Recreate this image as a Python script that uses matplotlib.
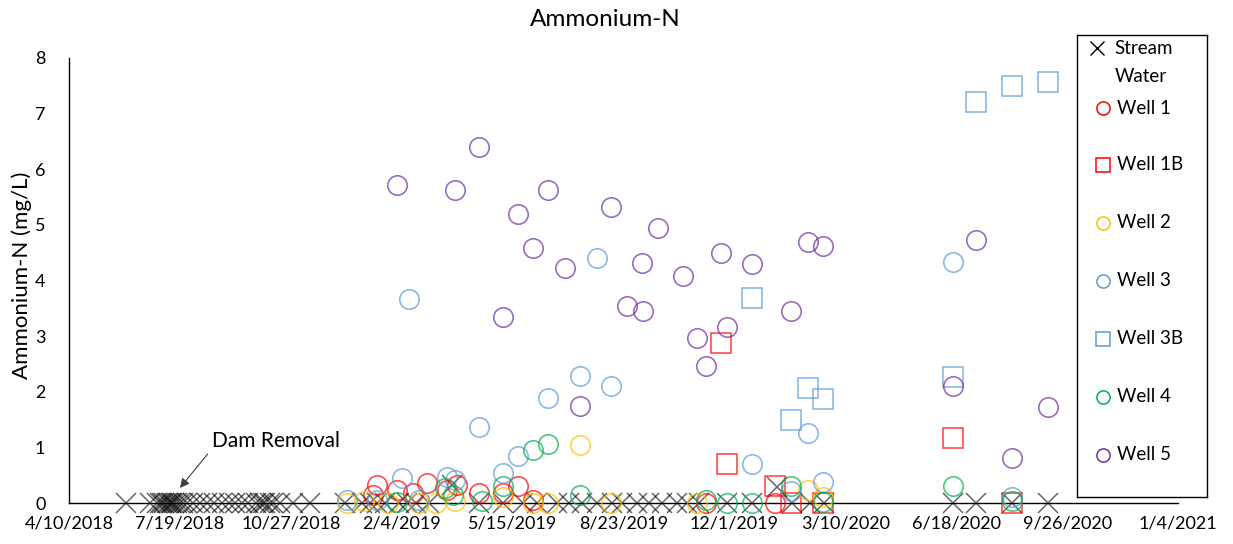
import matplotlib
matplotlib.use('Agg')
import matplotlib.pyplot as plt
import matplotlib.dates as mdates
import pandas as pd

plt.rcParams['font.family'] = ['Lato', 'DejaVu Sans']

# ---------------- data ----------------
stream_dates = [
    '2018-05-31', '2018-06-22', '2018-06-28', '2018-07-01', '2018-07-03', '2018-07-05',
    '2018-07-07', '2018-07-09', '2018-07-11', '2018-07-12', '2018-07-14', '2018-07-16',
    '2018-07-19', '2018-07-22', '2018-07-25', '2018-07-31', '2018-08-06', '2018-08-12',
    '2018-08-19', '2018-08-26', '2018-09-01', '2018-09-07', '2018-09-13', '2018-09-18',
    '2018-09-26', '2018-09-29', '2018-10-02', '2018-10-04', '2018-10-08', '2018-10-11',
    '2018-10-17', '2018-10-29', '2018-11-13',
    '2018-12-15', '2018-12-30', '2019-01-06', '2019-01-13', '2019-01-20', '2019-02-02',
    '2019-02-09', '2019-02-17', '2019-03-01', '2019-03-21', '2019-04-15', '2019-05-06',
    '2019-05-24', '2019-06-06', '2019-06-24', '2019-07-05', '2019-07-17', '2019-07-30',
    '2019-08-13', '2019-08-22', '2019-09-04', '2019-09-15', '2019-09-27', '2019-10-10',
    '2019-10-19', '2019-10-30', '2019-11-24', '2019-12-17', '2020-01-08', '2020-01-22',
    '2020-02-07', '2020-02-20', '2020-06-15', '2020-07-06', '2020-08-07', '2020-09-09']
stream_vals = [
    0, 0, 0, 0, 0, 0, 0, 0, 0, 0, 0, 0, 0, 0, 0, 0, 0, 0, 0, 0, 0, 0, 0, 0, 0, 0, 0, 0, 0, 0,
    0, 0, 0,
    0, 0, 0, 0, 0, 0, 0, 0, 0, 0.32, 0, 0, 0, 0, 0, 0, 0, 0, 0, 0, 0, 0, 0, 0, 0, 0, 0, 0,
    0.28, 0, 0, 0, 0, 0, 0, 0]

well1_dates = ['2019-01-09', '2019-01-13', '2019-01-31', '2019-02-14', '2019-02-27',
               '2019-03-17', '2019-03-26', '2019-04-15', '2019-05-06', '2019-05-20',
               '2019-06-02', '2019-11-05', '2020-01-07']
well1_vals = [0.14, 0.32, 0.23, 0.18, 0.36, 0.23, 0.32, 0.18, 0.18, 0.31, 0.05, 0.0, 0.0]

well1b_dates = ['2019-11-19', '2019-11-24', '2020-01-07', '2020-01-21', '2020-02-19',
                '2020-06-15', '2020-08-07']
well1b_vals = [2.88, 0.70, 0.31, 0.0, 0.0, 1.17, 0.0]

well2_dates = ['2018-12-17', '2019-01-01', '2019-01-23', '2019-02-20', '2019-03-07',
               '2019-03-24', '2019-05-06', '2019-06-02', '2019-06-16', '2019-07-15',
               '2019-08-12', '2019-10-28', '2020-02-05', '2020-02-19']
well2_vals = [0.0, 0.03, 0.0, 0.0, 0.0, 0.03, 0.1, 0.0, 0.0, 1.04, 0.0, 0.0, 0.23, 0.10]

well3_dates = ['2018-12-17', '2019-01-13', '2019-02-04', '2019-02-11', '2019-02-20',
               '2019-03-17', '2019-03-24', '2019-04-15', '2019-05-06', '2019-05-20',
               '2019-06-16', '2019-07-15', '2019-07-30', '2019-08-12', '2019-12-17',
               '2020-01-21', '2020-02-05', '2020-02-19', '2020-06-15', '2020-08-07']
well3_vals = [0.05, 0.05, 0.45, 3.67, 0.05, 0.47, 0.41, 1.36, 0.54, 0.85,
              1.89, 2.28, 4.41, 2.10, 0.70, 0.22, 1.26, 0.38, 4.34, 0.10]

well3b_dates = ['2019-12-17', '2020-01-21', '2020-02-05', '2020-02-19', '2020-06-15',
                '2020-07-06', '2020-08-07', '2020-09-09']
well3b_vals = [3.69, 1.49, 2.07, 1.87, 2.27, 7.21, 7.50, 7.57]

well4_dates = ['2019-01-31', '2019-03-15', '2019-03-22', '2019-04-17', '2019-05-06',
               '2019-06-02', '2019-06-16', '2019-07-15', '2019-11-05', '2019-11-24',
               '2019-12-17', '2020-01-21', '2020-02-19', '2020-06-15', '2020-08-07']
well4_vals = [0.02, 0.27, 0.15, 0.03, 0.30, 0.95, 1.06, 0.15, 0.05, 0.0,
              0.0, 0.30, 0.02, 0.31, 0.03]

well5_dates = ['2019-01-31', '2019-03-24', '2019-04-15', '2019-05-06', '2019-05-20',
               '2019-06-02', '2019-06-16', '2019-07-01', '2019-07-15', '2019-08-12',
               '2019-08-26', '2019-09-09', '2019-09-10', '2019-09-23', '2019-10-16',
               '2019-10-28', '2019-11-05', '2019-11-19', '2019-11-24', '2019-12-17',
               '2020-01-21', '2020-02-05', '2020-02-19', '2020-06-15', '2020-07-06',
               '2020-08-07', '2020-09-09']
well5_vals = [5.72, 5.63, 6.40, 3.35, 5.20, 4.59, 5.63, 4.23, 1.74, 5.32,
              3.54, 4.32, 3.45, 4.95, 4.08, 2.97, 2.46, 4.50, 3.17, 4.30,
              3.45, 4.69, 4.62, 2.10, 4.73, 0.81, 1.73]

tick_dates = ['2018-04-10', '2018-07-19', '2018-10-27', '2019-02-04', '2019-05-15',
              '2019-08-23', '2019-12-01', '2020-03-10', '2020-06-18', '2020-09-26',
              '2021-01-04']
tick_labels = ['4/10/2018', '7/19/2018', '10/27/2018', '2/4/2019', '5/15/2019',
               '8/23/2019', '12/1/2019', '3/10/2020', '6/18/2020', '9/26/2020',
               '1/4/2021']

series = [
    ('Well 1', well1_dates, well1_vals, 'o', '#FF0000'),
    ('Well 1B', well1b_dates, well1b_vals, 's', '#FF0000'),
    ('Well 2', well2_dates, well2_vals, 'o', '#FFC000'),
    ('Well 3', well3_dates, well3_vals, 'o', '#5B9BD5'),
    ('Well 3B', well3b_dates, well3b_vals, 's', '#5B9BD5'),
    ('Well 4', well4_dates, well4_vals, 'o', '#00B050'),
    ('Well 5', well5_dates, well5_vals, 'o', '#7030A0'),
]

# ---------------- figure ----------------
W, H = 1233, 544
fig = plt.figure(figsize=(W / 100, H / 100), dpi=100)
ax = fig.add_axes([69 / W, 1 - 503 / H, (1178 - 69) / W, (503 - 58) / H])

ax.plot(pd.to_datetime(stream_dates), stream_vals, linestyle='none', marker='x',
        markersize=14, markeredgewidth=1.1, color='black', alpha=0.6, zorder=3,
        clip_on=False)
for name, d, v, m, c in series:
    ax.plot(pd.to_datetime(d), v, linestyle='none', marker=m, markersize=14,
            markerfacecolor='none', markeredgecolor=c, markeredgewidth=1.2,
            alpha=0.7, zorder=3, clip_on=False)

ax.set_xlim(pd.Timestamp(tick_dates[0]), pd.Timestamp(tick_dates[-1]))
ax.set_ylim(0, 8)
ax.set_xticks(pd.to_datetime(tick_dates))
ax.set_xticklabels(tick_labels)
ax.set_yticks(range(0, 9))
ax.tick_params(axis='both', length=0, labelsize=13, colors='#000000')
ax.tick_params(axis='x', pad=9)
ax.tick_params(axis='y', pad=17)
for s in ['top', 'right']:
    ax.spines[s].set_visible(False)
for s in ['left', 'bottom']:
    ax.spines[s].set_color('#000000')
    ax.spines[s].set_linewidth(1.0)

# annotation
ax.annotate('', xy=(mdates.date2num(pd.Timestamp('2018-07-19')), 0.27),
            xytext=(mdates.date2num(pd.Timestamp('2018-08-13')), 0.88),
            arrowprops=dict(arrowstyle='-|>', color='#404040', lw=0.8,
                            mutation_scale=14, shrinkA=0, shrinkB=0))
ax.text(mdates.date2num(pd.Timestamp('2018-08-17')), 1.12, 'Dam Removal',
        fontsize=15, ha='left', va='center')

# title and y label
fig.text(605 / W, 1 - 20 / H, 'Ammonium-N', fontsize=17.5, ha='center', va='center')
fig.text(22 / W, 1 - 275 / H, 'Ammonium-N (mg/L)', fontsize=16, rotation=90,
         ha='center', va='center')

# legend (manual box)
lax = fig.add_axes([1077 / W, 1 - 497 / H, 130 / W, 462 / H])
lax.set_xlim(0, 130)
lax.set_ylim(462, 0)
lax.set_xticks([])
lax.set_yticks([])
for s in lax.spines.values():
    s.set_linewidth(1.0)
    s.set_color('#000000')
lax.plot([20], [13], marker='x', markersize=10, markeredgewidth=1.0, color='black',
         linestyle='none')
lax.text(37, 13, 'Stream', fontsize=13.5, va='center', ha='left')
lax.text(38, 41, 'Water', fontsize=13.5, va='center', ha='left')
ys = [73, 130, 188, 246, 304, 362, 420]
for (name, d, v, m, c), yy in zip(series, ys):
    lax.plot([26], [yy], marker=m, markersize=9.5, markerfacecolor='none',
             markeredgecolor=c, markeredgewidth=1.1, linestyle='none')
    lax.text(40, yy, name, fontsize=13.5, va='center', ha='left')

fig.savefig('out.png', dpi=100, facecolor='white')
